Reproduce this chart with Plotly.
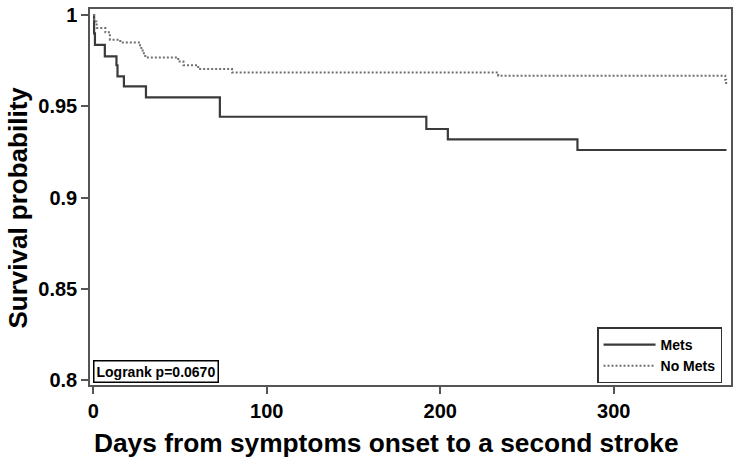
import plotly.graph_objects as go

# Kaplan-Meier step data
mets_days = [0, 0.5, 1, 6.7, 13.4, 14, 17.7, 30.4, 73, 192, 204.4, 279.1, 365]
mets_surv = [1.0, 0.990, 0.9837, 0.9774, 0.9725, 0.9664, 0.9609, 0.9549, 0.9443, 0.9376, 0.9319, 0.9261, 0.9261]

nomets_days = [0, 0.5, 2, 7, 9.6, 15.6, 27, 28.5, 30, 49, 52, 60.5, 80, 233.4, 364.3, 364.8]
nomets_surv = [1.0, 0.9965, 0.9929, 0.9905, 0.9865, 0.985, 0.982, 0.979, 0.9768, 0.9745, 0.9725, 0.9704, 0.9685, 0.9668, 0.9645, 0.9617]

x_ticks = [0, 100, 200, 300]
y_ticks = [0.8, 0.85, 0.9, 0.95, 1]
y_tick_labels = ["0.8", "0.85", "0.9", "0.95", "1"]

x_title = "Days from symptoms onset to a second stroke"
y_title = "Survival probability"
note_text = "Logrank p=0.0670"

FONT = "Arial, 'Liberation Sans', sans-serif"

fig = go.Figure()
fig.add_trace(go.Scatter(x=mets_days, y=mets_surv, mode="lines", name="<b>Mets</b>",
                         line=dict(shape="hv", color="#3a3a3a", width=2.2)))
fig.add_trace(go.Scatter(x=nomets_days, y=nomets_surv, mode="lines", name="<b>No Mets</b>",
                         line=dict(shape="hv", color="#707070", width=2, dash="2px,2px")))

fig.add_annotation(text="<b>" + note_text + "</b>", xref="paper", yref="paper",
                   x=0.005, y=0.006, xanchor="left", yanchor="bottom", showarrow=False,
                   font=dict(family=FONT, size=14, color="black"),
                   bordercolor="black", borderwidth=1.5, borderpad=2, bgcolor="white")

# axis titles (placed as annotations to match the reference's positions)
fig.add_annotation(text="<b>" + x_title + "</b>", xref="paper", yref="paper",
                   x=0.4633, y=-0.154, xanchor="center", yanchor="middle", showarrow=False,
                   font=dict(family=FONT, size=26.3, color="black"))
fig.add_annotation(text="<b>" + y_title + "</b>", xref="paper", yref="paper",
                   x=-0.1123, y=0.472, xanchor="center", yanchor="middle", showarrow=False,
                   textangle=-90, font=dict(family=FONT, size=26, color="black"))

fig.update_layout(
    width=738, height=462,
    margin=dict(l=90, r=7, t=9, b=77),
    paper_bgcolor="white", plot_bgcolor="white",
    font=dict(family=FONT, color="black"),
    showlegend=True,
    legend=dict(x=0.986, y=0.004, xanchor="right", yanchor="bottom",
                bordercolor="#333333", borderwidth=1.5, bgcolor="white",
                font=dict(family=FONT, size=14, color="black"),
                itemwidth=52, tracegroupgap=0),
    xaxis=dict(range=[-1.85, 367.6], tickvals=x_ticks, ticks="outside", ticklen=7,
               tickwidth=1.5, tickcolor="#555555", automargin=False,
               showline=True, mirror=True, linecolor="#555555", linewidth=1.5,
               showgrid=False, zeroline=False,
               tickfont=dict(family=FONT, size=20, color="black", weight="bold")),
    yaxis=dict(range=[0.7974, 1.0033], tickvals=y_ticks, ticktext=y_tick_labels,
               ticks="outside", ticklen=7, tickwidth=1.5, tickcolor="#555555",
               automargin=False,
               showline=True, mirror=True, linecolor="#555555", linewidth=1.5,
               showgrid=False, zeroline=False,
               tickfont=dict(family=FONT, size=20, color="black", weight="bold")),
)

fig.write_html("out.html", config={"displayModeBar": False},
               post_script="document.body.style.margin='0';")
